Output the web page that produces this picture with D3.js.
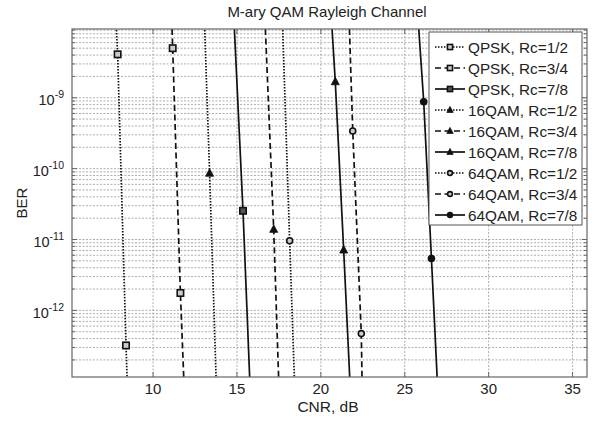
<!DOCTYPE html>
<html><head><meta charset="utf-8">
<script src="https://cdn.jsdelivr.net/npm/d3@7"></script>
<style>body{margin:0;background:#fff;} svg{display:block;font-family:"Liberation Sans",Arial,sans-serif;}</style>
</head><body><svg id="c" width="594" height="421"></svg>
<script>
// ---- data ----
const seriesNames = ["QPSK, Rc=1/2","QPSK, Rc=3/4","QPSK, Rc=7/8",
                     "16QAM, Rc=1/2","16QAM, Rc=3/4","16QAM, Rc=7/8",
                     "64QAM, Rc=1/2","64QAM, Rc=3/4","64QAM, Rc=7/8"];
const qpsk12Cnr = [7.70, 7.89, 8.39, 8.53];
const qpsk12Ber = [3.2e-8, 4.1e-9, 3.2e-13, 3.2e-14];
const qpsk34Cnr = [11.06, 11.17, 11.63, 11.92];
const qpsk34Ber = [3.2e-8, 5.0e-9, 1.76e-12, 3.2e-14];
const qpsk78Cnr = [14.74, 15.36, 15.85];
const qpsk78Ber = [3.2e-8, 2.54e-11, 3.2e-14];
const qam16_12Cnr = [13.00, 13.37, 13.83];
const qam16_12Ber = [3.2e-8, 8.6e-11, 3.2e-14];
const qam16_34Cnr = [16.60, 17.19, 17.56];
const qam16_34Ber = [3.2e-8, 1.39e-11, 3.2e-14];
const qam16_78Cnr = [20.53, 20.86, 21.36, 21.83];
const qam16_78Ber = [3.2e-8, 1.68e-9, 7.1e-12, 3.2e-14];
const qam64_12Cnr = [17.65, 18.14, 18.50];
const qam64_12Ber = [3.2e-8, 9.6e-12, 3.2e-14];
const qam64_34Cnr = [21.63, 21.90, 22.41, 22.49];
const qam64_34Ber = [3.2e-8, 3.4e-10, 4.7e-13, 3.2e-14];
const qam64_78Cnr = [25.68, 26.13, 26.59, 27.04];
const qam64_78Ber = [3.2e-8, 8.8e-10, 5.4e-12, 3.2e-14];
const xTicks = [10, 15, 20, 25, 30, 35];
const yTicks = [1e-9, 1e-10, 1e-11, 1e-12];
const yTickExp = ["-9", "-10", "-11", "-12"];
const xDomain = [5.17, 35.86];
const yDomain = [Math.pow(10, -12.94), Math.pow(10, -8.03)];

const cnrs = [qpsk12Cnr, qpsk34Cnr, qpsk78Cnr, qam16_12Cnr, qam16_34Cnr, qam16_78Cnr, qam64_12Cnr, qam64_34Cnr, qam64_78Cnr];
const bers = [qpsk12Ber, qpsk34Ber, qpsk78Ber, qam16_12Ber, qam16_34Ber, qam16_78Ber, qam64_12Ber, qam64_34Ber, qam64_78Ber];
const series = seriesNames.map((n, i) => ({name: n, mod: Math.floor(i / 3), rate: i % 3,
  pts: cnrs[i].map((c, j) => ({x: c, y: bers[i][j]}))}));

// ---- layout ----
const L = 72, R = 587, T = 29, B = 377;
const svg = d3.select("#c");
const x = d3.scaleLinear().domain(xDomain).range([L, R]);
const y = d3.scaleLog().domain(yDomain).range([B, T]);

svg.append("defs").append("clipPath").attr("id", "clip")
  .append("rect").attr("x", L).attr("y", T).attr("width", R - L).attr("height", B - T);

// grid
const minor = [];
for (let d = -13; d <= -8; d++) for (let m = 1; m <= 9; m++) {
  const v = m * Math.pow(10, d);
  if (v >= yDomain[0] && v <= yDomain[1]) minor.push(v);
}
const g = svg.append("g");
g.selectAll("line.hy").data(minor).join("line")
  .attr("x1", L).attr("x2", R).attr("y1", d => y(d)).attr("y2", d => y(d))
  .attr("stroke", "#999").attr("stroke-width", 0.8).attr("stroke-dasharray", "2,1.5");
g.selectAll("line.vx").data(xTicks).join("line")
  .attr("y1", T).attr("y2", B).attr("x1", d => x(d)).attr("x2", d => x(d))
  .attr("stroke", "#999").attr("stroke-width", 0.8).attr("stroke-dasharray", "2,1.5");

// series
const dashes = ["1.5,1.5", "6,3.5", null];
const line = d3.line().x(d => x(d.x)).y(d => y(d.y));
const plot = svg.append("g").attr("clip-path", "url(#clip)");
function marker(sel, mod, rate, cx, cy, k) {
  if (mod === 0) {
    const h = 3.2 * k;
    sel.append("rect").attr("x", cx - h).attr("y", cy - h).attr("width", 2 * h).attr("height", 2 * h)
      .attr("fill", rate === 2 ? "#555" : "#ccc").attr("stroke", "#111").attr("stroke-width", 1.6);
  } else if (mod === 1) {
    sel.append("path").attr("d", `M${cx},${cy - 4.5 * k}L${cx + 4 * k},${cy + 3 * k}L${cx - 4 * k},${cy + 3 * k}Z`)
      .attr("fill", "#111").attr("stroke", "#111").attr("stroke-width", 0.8);
  } else {
    sel.append("circle").attr("cx", cx).attr("cy", cy).attr("r", 3 * k)
      .attr("fill", rate === 2 ? "#111" : "#ccc").attr("stroke", "#111").attr("stroke-width", 1.6);
  }
}
series.forEach(s => {
  plot.append("path").datum(s.pts).attr("d", line).attr("fill", "none")
    .attr("stroke", "#111").attr("stroke-width", 1.7)
    .attr("stroke-dasharray", dashes[s.rate]);
  s.pts.forEach(p => marker(plot, s.mod, s.rate, x(p.x), y(p.y), 1));
});

// frame + ticks
svg.append("rect").attr("x", L).attr("y", T).attr("width", R - L).attr("height", B - T)
  .attr("fill", "none").attr("stroke", "#666").attr("stroke-width", 1.2);
xTicks.forEach(t => {
  svg.append("line").attr("x1", x(t)).attr("x2", x(t)).attr("y1", B).attr("y2", B - 5).attr("stroke", "#666");
  svg.append("line").attr("x1", x(t)).attr("x2", x(t)).attr("y1", T).attr("y2", T + 5).attr("stroke", "#666");
  svg.append("text").attr("x", x(t)).attr("y", 394).attr("text-anchor", "middle")
    .attr("font-size", 15).attr("fill", "#222").text(t);
});
minor.forEach(v => {
  const len = yTicks.includes(v) ? 5 : 3;
  svg.append("line").attr("x1", L).attr("x2", L + len).attr("y1", y(v)).attr("y2", y(v)).attr("stroke", "#666");
  svg.append("line").attr("x1", R).attr("x2", R - len).attr("y1", y(v)).attr("y2", y(v)).attr("stroke", "#666");
});
yTicks.forEach((t, i) => {
  const tx = svg.append("text").attr("x", 64).attr("y", y(t) + 7.5).attr("text-anchor", "end")
    .attr("font-size", 14.5).attr("fill", "#222");
  tx.append("tspan").text("10");
  tx.append("tspan").attr("dy", -7).attr("font-size", 10.5).text(yTickExp[i]);
});

// labels
svg.append("text").attr("x", 327).attr("y", 17).attr("text-anchor", "middle")
  .attr("font-size", 15).attr("fill", "#222").text("M-ary QAM Rayleigh Channel");
svg.append("text").attr("x", 328).attr("y", 412).attr("text-anchor", "middle")
  .attr("font-size", 15.5).attr("fill", "#222").text("CNR, dB");
svg.append("text").attr("transform", "translate(27,203) rotate(-90)").attr("text-anchor", "middle")
  .attr("font-size", 15).attr("fill", "#222").text("BER");

// legend
const lg = svg.append("g");
lg.append("rect").attr("x", 429).attr("y", 32).attr("width", 153).attr("height", 193)
  .attr("fill", "#fff").attr("stroke", "#555").attr("stroke-width", 1);
series.forEach((s, i) => {
  const cy = 47 + i * 21;
  lg.append("line").attr("x1", 435).attr("x2", 465).attr("y1", cy).attr("y2", cy)
    .attr("stroke", "#111").attr("stroke-width", 1.7).attr("stroke-dasharray", dashes[s.rate]);
  marker(lg, s.mod, s.rate, 450, cy, 0.8);
  lg.append("text").attr("x", 468).attr("y", cy + 5.5).attr("font-size", 15.3).attr("fill", "#222").text(s.name);
});
</script></body></html>
